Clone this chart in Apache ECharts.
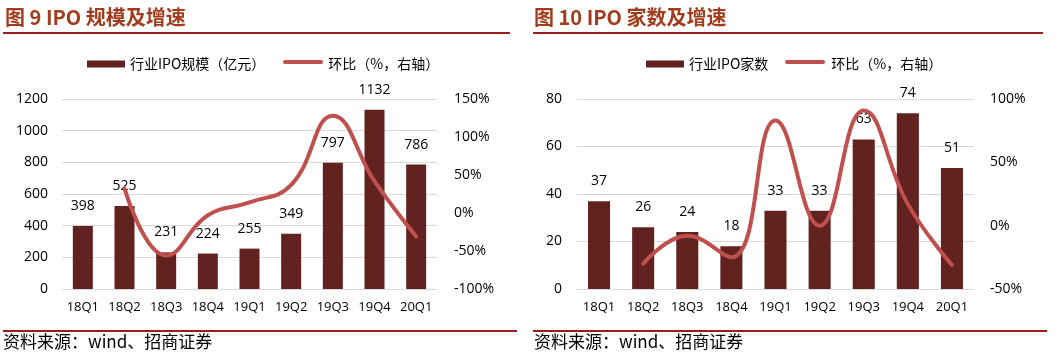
<!DOCTYPE html>
<html><head><meta charset="utf-8">
<script src="https://cdn.jsdelivr.net/npm/echarts@6/dist/echarts.min.js"></script>
<style>html,body{margin:0;padding:0;background:#fff}#c{width:1058px;height:363px}</style>
</head><body><div id="c"></div>
<script>
const categories = ['18Q1','18Q2','18Q3','18Q4','19Q1','19Q2','19Q3','19Q4','20Q1'];
const ipoScale = [398, 525, 231, 224, 255, 349, 797, 1132, 786];
const ipoScaleQoQ = [null, 32, -56, -3, 14, 37, 128, 42, -31];
const ipoCount = [37, 26, 24, 18, 33, 33, 63, 74, 51];
const ipoCountQoQ = [null, -30, -8, -25, 83, 0, 91, 17, -31];
const titles = ['图 9 IPO 规模及增速', '图 10 IPO 家数及增速'];
const barNames = ['行业IPO规模（亿元）', '行业IPO家数'];
const lineName = '环比（%，右轴）';
const source = '资料来源：wind、招商证券';

const FONT = '"Open Sans","Noto Sans CJK SC",sans-serif';
const CJK = '"Noto Sans CJK SC","Open Sans",sans-serif';
const BAR = '#62221F', LINE = '#C0504D', GRIDC = '#D9D9D9', TXT = '#000';
const chart = echarts.init(document.getElementById('c'), null, {renderer: 'canvas'});

function yAxis(gridIndex, min, max, interval, pos, pct, margin) {
  return {
    type: 'value', gridIndex, min, max, interval, position: pos,
    axisLine: {show: false}, axisTick: {show: false},
    splitLine: {show: pos === 'left', lineStyle: {color: GRIDC, width: 1}},
    axisLabel: {color: TXT, fontSize: 14, fontFamily: FONT, margin,
      formatter: v => pct ? v + '%' : String(v)}
  };
}
function xAxis(gridIndex) {
  return {
    type: 'category', gridIndex, data: categories,
    axisLine: {show: true, lineStyle: {color: GRIDC, width: 1}},
    axisTick: {show: false},
    axisLabel: {color: TXT, fontSize: 13, fontFamily: FONT, margin: 12, interval: 0, hideOverlap: false}
  };
}
const legendText = {color: TXT, fontSize: 14, fontFamily: CJK};

const option = {
  animation: false,
  textStyle: {fontFamily: FONT},
  grid: [
    {left: 62, right: 621, top: 99, bottom: 74},
    {left: 577, right: 84, top: 99, bottom: 74}
  ],
  xAxis: [xAxis(0), xAxis(1)],
  yAxis: [
    yAxis(0, 0, 1200, 200, 'left', false, 14),
    yAxis(0, -100, 150, 50, 'right', true, 17),
    yAxis(1, 0, 80, 20, 'left', false, 15),
    yAxis(1, -50, 100, 50, 'right', true, 16)
  ],
  legend: [
    {left: 82, top: 52, itemWidth: 38, itemHeight: 7, itemGap: 20, textStyle: legendText,
     data: [{name: barNames[0], icon: 'rect'}, {name: lineName + ' ', icon: 'none'}], selectedMode: false},
    {left: 641, top: 52, itemWidth: 38, itemHeight: 7, itemGap: 20, textStyle: legendText,
     data: [{name: barNames[1], icon: 'rect'}, {name: lineName, icon: 'none'}], selectedMode: false}
  ],
  series: [
    {name: barNames[0], type: 'bar', xAxisIndex: 0, yAxisIndex: 0, data: ipoScale,
     barWidth: '48%', itemStyle: {color: BAR},
     label: {show: true, position: 'top', distance: 13, color: TXT, fontSize: 14, fontFamily: FONT}},
    {name: lineName + ' ', type: 'line', xAxisIndex: 0, yAxisIndex: 1, data: ipoScaleQoQ,
     smooth: 0.45, symbol: 'none', lineStyle: {color: LINE, width: 4, cap: 'round'}, itemStyle: {color: LINE}, z: 5},
    {name: barNames[1], type: 'bar', xAxisIndex: 1, yAxisIndex: 2, data: ipoCount,
     barWidth: '50%', itemStyle: {color: BAR},
     label: {show: true, position: 'top', distance: 13, color: TXT, fontSize: 14, fontFamily: FONT}},
    {name: lineName, type: 'line', xAxisIndex: 1, yAxisIndex: 3, data: ipoCountQoQ,
     smooth: 0.45, symbol: 'none', lineStyle: {color: LINE, width: 4, cap: 'round'}, itemStyle: {color: LINE}, z: 5}
  ],
  graphic: [
    {type: 'text', left: 5, top: 7, style: {text: titles[0], fill: '#A23C1C', font: 'bold 20px ' + CJK}},
    {type: 'text', left: 534, top: 7, style: {text: titles[1], fill: '#A23C1C', font: 'bold 20px ' + CJK}},
    {type: 'rect', shape: {x: 3, y: 32, width: 507, height: 2}, style: {fill: '#9E1B1B'}},
    {type: 'rect', shape: {x: 533, y: 32, width: 510, height: 2}, style: {fill: '#9E1B1B'}},
    {type: 'rect', shape: {x: 3, y: 330, width: 514, height: 2}, style: {fill: '#9E1B1B'}},
    {type: 'rect', shape: {x: 533, y: 330, width: 514, height: 2}, style: {fill: '#9E1B1B'}},
    {type: 'text', left: 3, top: 333, style: {text: source, fill: TXT, font: '17px ' + CJK}},
    {type: 'text', left: 534, top: 333, style: {text: source, fill: TXT, font: '17px ' + CJK}},
    {type: 'rect', shape: {x: 283, y: 60, width: 40, height: 4, r: 2}, style: {fill: LINE}},
    {type: 'rect', shape: {x: 785, y: 60, width: 40, height: 4, r: 2}, style: {fill: LINE}}
  ]
};
chart.setOption(option);
</script></body></html>
